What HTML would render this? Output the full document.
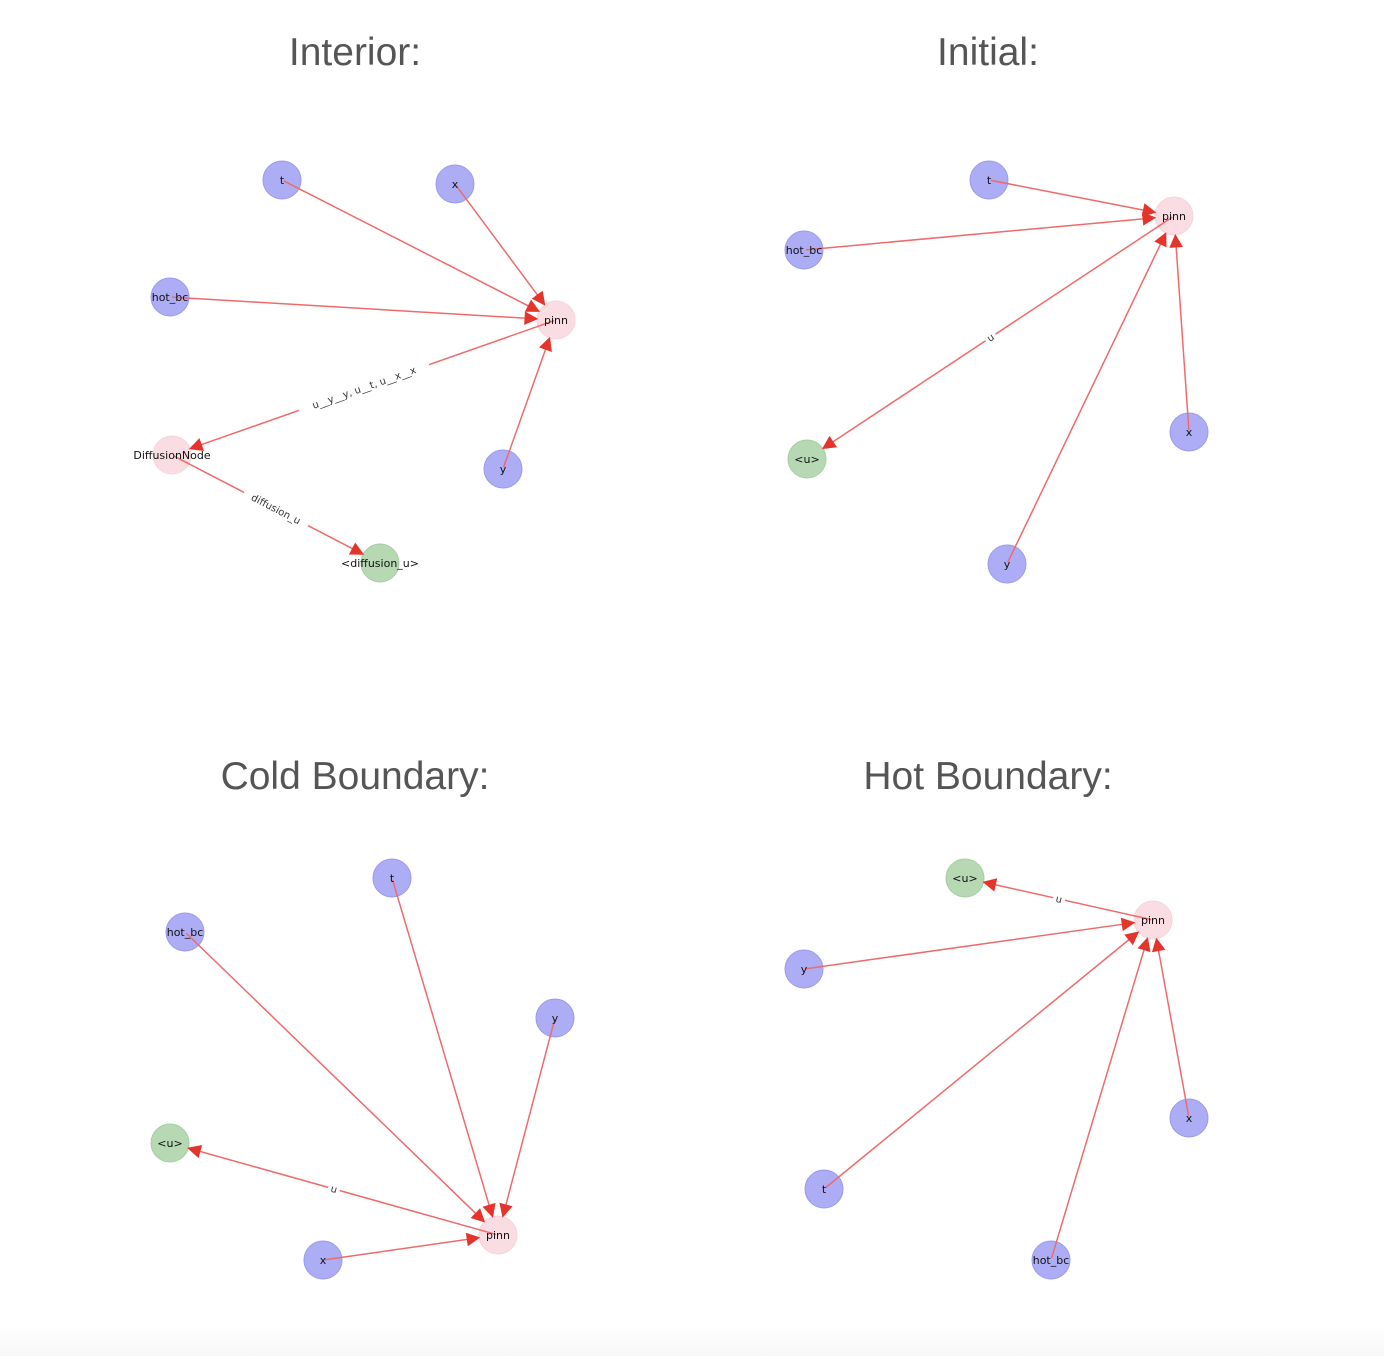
<!DOCTYPE html>
<html><head><meta charset="utf-8"><style>
html,body{margin:0;padding:0;background:#fff;}
body{width:1384px;height:1356px;overflow:hidden;position:relative;font-family:"Liberation Sans","DejaVu Sans",sans-serif;}
#bottom{position:absolute;left:0;top:1326px;width:1384px;height:30px;background:linear-gradient(#fff,#f7f7f7);}
</style></head><body>
<svg id="chart" width="1384" height="1356" viewBox="0 0 1384 1356" xmlns="http://www.w3.org/2000/svg"></svg>
<div id="bottom"></div>
<script>
const titles = ["Interior:", "Initial:", "Cold Boundary:", "Hot Boundary:"];
const titlePos = [[355,52],[988,52],[355,776],[988,776]];
// nodes: [name, x, y, kind]  kind: i=input, m=model, o=output
const interiorNodes = [["t",282,180,"i"],["x",455,184,"i"],["hot_bc",170,297,"i"],["pinn",556,320,"m"],["DiffusionNode",172,455,"m"],["y",503,469,"i"],["<diffusion_u>",380,563,"o"]];
const interiorEdges = [["t","pinn",""],["x","pinn",""],["hot_bc","pinn",""],["y","pinn",""],["pinn","DiffusionNode","u__y__y, u__t, u__x__x"],["DiffusionNode","<diffusion_u>","diffusion_u"]];
const initialNodes = [["t",989,180,"i"],["pinn",1174,216,"m"],["hot_bc",804,250,"i"],["<u>",807,459,"o"],["x",1189,432,"i"],["y",1007,564,"i"]];
const initialEdges = [["t","pinn",""],["hot_bc","pinn",""],["x","pinn",""],["y","pinn",""],["pinn","<u>","u"]];
const coldNodes = [["t",392,878,"i"],["hot_bc",185,932,"i"],["y",555,1018,"i"],["<u>",170,1143,"o"],["pinn",498,1235,"m"],["x",323,1260,"i"]];
const coldEdges = [["t","pinn",""],["hot_bc","pinn",""],["y","pinn",""],["x","pinn",""],["pinn","<u>","u"]];
const hotNodes = [["<u>",965,878,"o"],["pinn",1153,920,"m"],["y",804,969,"i"],["x",1189,1118,"i"],["t",824,1189,"i"],["hot_bc",1051,1260,"i"]];
const hotEdges = [["y","pinn",""],["x","pinn",""],["t","pinn",""],["hot_bc","pinn",""],["pinn","<u>","u"]];

const graphs = [[interiorNodes,interiorEdges],[initialNodes,initialEdges],[coldNodes,coldEdges],[hotNodes,hotEdges]];
const NS="http://www.w3.org/2000/svg";
const svg=document.getElementById('chart');
const R=19;
const fills={i:"#adadf5",m:"#fadde2",o:"#b6d8b2"};
const strokes={i:"#9a9af0",m:"#f8d3da",o:"#a6cfa2"};
function mk(tag,attrs,parent){const e=document.createElementNS(NS,tag);for(const k in attrs)e.setAttribute(k,attrs[k]);(parent||svg).appendChild(e);return e;}

titles.forEach((t,i)=>{
  const el=mk('text',{x:titlePos[i][0],y:titlePos[i][1]+13,'text-anchor':'middle','font-size':'39','fill':'#555'});
  
  
  el.textContent=t;
});

graphs.forEach((g,gi)=>{
  const [nodes,edges]=g;
  const grp=mk('g',{});
  
  
  const pos={};nodes.forEach(n=>pos[n[0]]=n);
  nodes.forEach(n=>{
    const c=mk('circle',{cx:n[1],cy:n[2],r:R,fill:fills[n[3]],stroke:strokes[n[3]],'stroke-width':1},grp);
    
    
  });
  edges.forEach(e=>{
    const a=pos[e[0]],b=pos[e[1]];
    const dx=b[1]-a[1],dy=b[2]-a[2],L=Math.hypot(dx,dy),ux=dx/L,uy=dy/L;
    const tx=b[1]-ux*R,ty=b[2]-uy*R;
    const hl=12,hw=6;
    const bx=tx-ux*hl,by=ty-uy*hl;
    const ln=mk('line',{x1:a[1]+ux*2,y1:a[2]+uy*2,x2:bx,y2:by,stroke:'#ef6a6a','stroke-width':1.5},grp);
    
    
    const hd=mk('polygon',{points:`${tx},${ty} ${bx-uy*hw},${by+ux*hw} ${bx+uy*hw},${by-ux*hw}`,fill:'#e5342c',stroke:'#e5342c','stroke-width':1},grp);
    
    
    if(e[2]){
      const mx=(a[1]+b[1])/2,my=(a[2]+b[2])/2;
      let ang=Math.atan2(dy,dx)*180/Math.PI; if(ang>90)ang-=180; if(ang<-90)ang+=180;
      const lg=mk('g',{transform:`translate(${mx},${my}) rotate(${ang})`},grp);
      const w=e[2].length*6+6;
      mk('rect',{x:-w/2,y:-7,width:w,height:14,fill:'#fff'},lg);
      const t=mk('text',{x:0,y:3.5,'text-anchor':'middle','font-size':'10','fill':'#333','font-family':'DejaVu Sans, sans-serif'},lg);
      
      
      t.textContent=e[2];
    }
  });
  nodes.forEach(n=>{
    const t=mk('text',{x:n[1],y:n[2]+4,'text-anchor':'middle','font-size':'11','fill':'#111','font-family':'DejaVu Sans, sans-serif'},grp);
    
    
    t.textContent=n[0];
  });
});
</script>
</body></html>
